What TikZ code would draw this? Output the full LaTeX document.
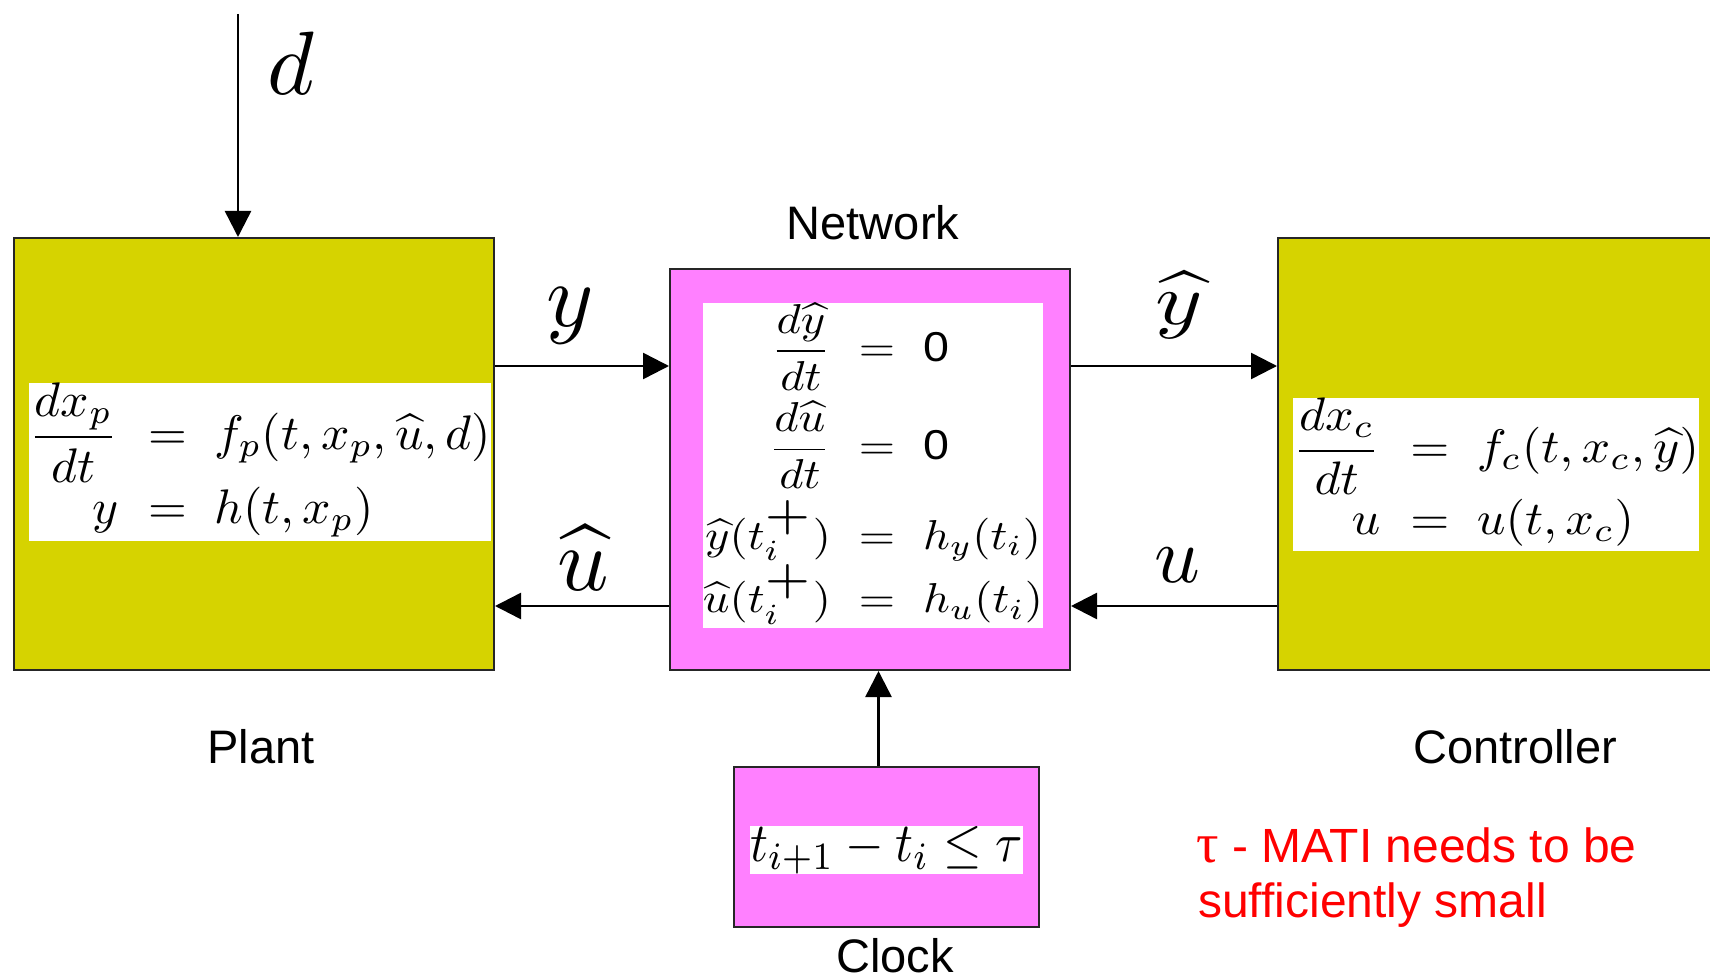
\documentclass[tikz,border=0pt]{standalone}
\usepackage[no-math]{fontspec}
\usepackage{amsmath}
\usepackage{graphicx}
\usetikzlibrary{arrows.meta}
\newfontfamily\arial{Liberation Sans}
\newfontfamily\timesf{Liberation Serif}
\definecolor{plantyellow}{HTML}{D6D300}
\definecolor{netpink}{HTML}{FF80FF}
\definecolor{notered}{HTML}{FF0000}
\newcommand{\bigplus}{\scalebox{1.6}{$\scriptstyle +$}}
\newcommand{\biglbl}[1]{\scalebox{9}{$#1$}}
\begin{document}
\begin{tikzpicture}[x=1pt,y=-1pt,
  blockbox/.style={draw=black!85, line width=2pt, inner sep=0pt, rectangle},
  eqbox/.style={fill=white, inner sep=0pt, rectangle},
  arr/.style={line width=2.5pt, -{Triangle[length=26pt,width=26pt]}},
  lbl/.style={font=\fontsize{47}{56}\selectfont\arial, inner sep=0pt, anchor=base},
  mlbl/.style={inner sep=0pt, anchor=base},
  redlbl/.style={font=\fontsize{48}{56}\selectfont\arial, text=notered, inner sep=0pt, anchor=base west}]
\useasboundingbox (0,0) rectangle (1710,976);
\clip (0,0) rectangle (1710,976);

% blocks
\node[blockbox, fill=plantyellow, minimum width=480pt, minimum height=432pt] (plant) at (254,454) {};
\node[blockbox, fill=netpink, minimum width=400pt, minimum height=401pt] (network) at (870,469.5) {};
\node[blockbox, fill=plantyellow, minimum width=442pt, minimum height=432pt] (controller) at (1499,454) {};
\node[blockbox, fill=netpink, minimum width=305pt, minimum height=160pt] (clock) at (886.5,847) {};

% equations
\node[eqbox] (plantEq) at (260,462) {\resizebox*{462pt}{158pt}{$\displaystyle
  \begin{array}{@{}r@{\hspace{0.6em}}c@{\hspace{0.55em}}l@{}}
  \dfrac{dx_p}{dt} & = & f_p(t,x_p,\widehat{u},d)\\[2pt]
  y & = & h(t,x_p)
  \end{array}$}};
\node[eqbox] (netEq) at (873,465.5) {\resizebox*{340pt}{325pt}{$\displaystyle
  \begin{array}{@{}r@{\hspace{0.6em}}c@{\hspace{0.6em}}l@{}}
  \dfrac{d\widehat{y}}{dt} & = & \mbox{\arial 0}\\[6pt]
  \dfrac{d\widehat{u}}{dt} & = & \mbox{\arial 0}\\[6pt]
  \widehat{y}(t_i^{\bigplus}) & = & h_y(t_i)\\[0pt]
  \widehat{u}(t_i^{\bigplus}) & = & h_u(t_i)
  \end{array}$}};
\node[eqbox] (ctrlEq) at (1496,474.5) {\resizebox*{406pt}{153pt}{$\displaystyle
  \begin{array}{@{}r@{\hspace{0.6em}}c@{\hspace{0.55em}}l@{}}
  \dfrac{dx_c}{dt} & = & f_c(t,x_c,\widehat{y})\\[2pt]
  u & = & u(t,x_c)
  \end{array}$}};
\node[eqbox] (clockEq) at (886.5,850) {\resizebox*{273pt}{48pt}{$t_{i+1}-t_i\le\tau$}};

% connectors
\coordinate (rowY) at (0,366);
\coordinate (rowU) at (0,606);
\coordinate (clockX) at (878.5,0);
\coordinate (dtop) at (238,14);
\draw[arr] (plant.east |- rowY) -- (network.west |- rowY);
\draw[arr] (network.west |- rowU) -- (plant.east |- rowU);
\draw[arr] (network.east |- rowY) -- (controller.west |- rowY);
\draw[arr] (controller.west |- rowU) -- (network.east |- rowU);
\draw[arr] (clock.north -| clockX) -- (network.south -| clockX);
\draw[arr] (dtop) -- (dtop |- plant.north);

% signal labels
\node[mlbl] (dLbl) at (291,95) {\biglbl{d}};
\node[mlbl] (yLbl) at (570,326) {\biglbl{y}};
\node[mlbl] (uhLbl) at (583,590) {\biglbl{\widehat{u}}};
\node[mlbl] (yhLbl) at (1179,324) {\scalebox{9}[7.3]{$\widehat{y}$}};
\node[mlbl] (uLbl) at (1177,582) {\scalebox{8}{$u$}};

% block titles
\node[lbl] (netLbl) at (873,240) {Network};
\node[lbl] (plantLbl) at (261,763) {Plant};
\node[lbl] (ctrlLbl) at (1515,763) {Controller};
\node[lbl] (clockLbl) at (895,972) {Clock};

% note
\node[redlbl] (note1) at (1196,862) {{\timesf\fontsize{56}{56}\selectfont τ} - MATI needs to be};
\node[redlbl] (note2) at (1198,917) {sufficiently small};
\end{tikzpicture}
\end{document}
